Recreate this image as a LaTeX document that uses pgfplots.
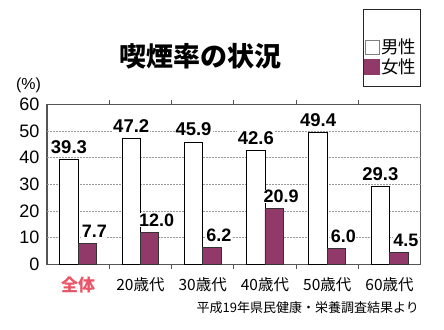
\documentclass[border=0pt]{standalone}
\usepackage{fontspec}
\setmainfont{Liberation Sans}
\newfontfamily\cjk{Noto Sans CJK JP}
\newfontfamily\cjkblack{Noto Sans CJK JP Black}
\usepackage{pgfplots}
\pgfplotsset{compat=1.18}
\definecolor{fem}{HTML}{913A6A}
\definecolor{zen}{HTML}{E95466}
\definecolor{frame}{HTML}{555555}
\begin{document}
\begin{tikzpicture}
\path[use as bounding box] (0,0) rectangle (444pt,329pt);
\begin{axis}[
  at={(47pt,64.6pt)}, anchor=south west,
  scale only axis, width=373.7pt, height=159.9pt,
  xmin=-0.5, xmax=5.5, ymin=0, ymax=60,
  ytick={0,10,...,60},
  xtick={0,...,5},
  xticklabels={{\cjk\bfseries\fontsize{17}{17}\selectfont\textcolor{zen}{全体}},
    20歳代,30歳代,40歳代,50歳代,60歳代},
  minor xtick={0.5,1.5,2.5,3.5,4.5},
  tick align=inside, major tick length=0pt, minor tick length=5pt,
  tick style={draw=frame, line width=0.8pt},
  extra y ticks={10,20,30,40,50}, extra y tick labels={},
  extra y tick style={grid=major, major tick length=0pt},
  grid style={draw=gray!80, line width=0.6pt, dash pattern=on 2pt off 1pt},
  axis line style={draw=frame, line width=1.2pt},
  /pgf/number format/assume math mode=true,
  yticklabel style={font=\fontsize{18}{18}\selectfont, anchor=east, xshift=-4pt},
  xticklabel style={font=\cjk\fontsize{15.5}{15.5}\selectfont, anchor=center, yshift=-20.6pt},
  ybar=0pt, bar width=18.4pt,
  clip=false,
  legend style={draw=none, fill=none, inner sep=0pt,
    at={(0.8483,1.4159)}, anchor=north west,
    font=\cjk\fontsize{17.5}{17.5}\selectfont,
    nodes={inner sep=1pt}, row sep=1pt},
  legend cell align=left,
]
\addplot[draw=black, fill=white, line width=0.8pt,
  legend image code/.code={\draw[draw=gray, fill=white, line width=1pt] (0.5pt,-7pt) rectangle (14.5pt,7pt);},
  nodes near coords={\pgfmathprintnumber[fixed,fixed zerofill,precision=1,assume math mode=true]{\pgfplotspointmeta}},
  every node near coord/.append style={font=\bfseries\fontsize{18.5}{18.5}\selectfont, fill=white, inner sep=1pt, yshift=4.5pt, text=black}]
  coordinates {(0,39.3) (1,47.2) (2,45.9) (3,42.6) (4,49.4) (5,29.3)};
\addlegendentry{男性}
\addplot[draw=black!80, fill=fem, line width=0.8pt,
  legend image code/.code={\fill[fem] (0pt,-7.5pt) rectangle (15pt,7.5pt);},
  nodes near coords={\pgfmathprintnumber[fixed,fixed zerofill,precision=1,assume math mode=true]{\pgfplotspointmeta}},
  every node near coord/.append style={font=\bfseries\fontsize{18}{18}\selectfont, fill=white, inner sep=0.5pt, yshift=5pt, xshift=7pt, text=black}]
  coordinates {(0,7.7) (1,12.0) (2,6.2) (3,20.9) (4,6.0) (5,4.5)};
\addlegendentry{女性}
\end{axis}
\draw[draw=black!85, line width=0.9pt] (363pt,243pt) rectangle (420.7pt,319.7pt);
\node[font=\cjkblack\fontsize{27}{27}\selectfont] at (200pt,273pt) {喫煙率の状況};
\node[font=\fontsize{16}{16}\selectfont] at (28.5pt,243.5pt) {(\%)};
\node[anchor=east, inner sep=0pt, font=\cjk\fontsize{13}{13}\selectfont] at (419pt,21pt) {平成19年県民健康・栄養調査結果より};
\end{tikzpicture}
\end{document}
